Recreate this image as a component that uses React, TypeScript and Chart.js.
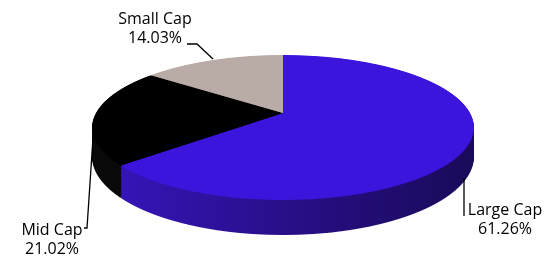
import { useEffect, useRef } from "react";
import { Chart, registerables } from "chart.js";

Chart.register(...registerables);

// ---- data ----
const categories = ["Large Cap", "Mid Cap", "Small Cap"];
const shares = [61.26, 21.02, 14.03];

// ---- styles ----
const topColors = ["#3c15dd", "#000000", "#b9aca6"];
const sideStops = [
  ["#3716bd", "#2a0f8e", "#1a0a58"],
  ["#0a0a0a", "#030303", "#000000"],
  ["#8e847f", "#7d736e", "#6d635e"],
];
// perspective view of the disc (screen px)
const persp = { cx: 283, cy: 113, w: 187, k: 69.6, p: 0.2, d: 28, layers: 40, gx0: 95, gx1: 475 };
const labelLayout = [
  { x: 505, y: 210, line: [[464, 178], [464, 216]] },
  { x: 52, y: 230, line: [[93, 138], [87, 228], [84, 228]] },
  { x: 155, y: 19, line: [[213, 59], [197, 44], [187, 44]] },
];
const FONT = "16px 'Open Sans'";
const W = 554;
const H = 266;

function stripTransform(c: any, ys: number, e: number) {
  const Y = ys - persp.cy;
  const Z = (e - Y) / (persp.k + persp.p * Y);
  const den = 1 + persp.p * Z;
  const dydZ = (-persp.k - persp.p * e) / (den * den);
  const a = persp.w / den / c.r;
  const d = -dydZ / c.r;
  const ee = persp.cx - a * c.x;
  const ff = ys + dydZ * (c.y / c.r - Z);
  return { Z, a, d, e: ee, f: ff };
}

function drawDisc(ctx: CanvasRenderingContext2D, arcs: any[], c: any, e: number, top: boolean) {
  const base = ctx.getTransform();
  for (let row = 30; row < H; row++) {
    const ys = row + 0.5;
    const T = stripTransform(c, ys, e);
    if (T.Z < -1.08 || T.Z > 1.08) continue;
    ctx.save();
    ctx.beginPath();
    ctx.rect(0, row, W, 1);
    ctx.clip();
    ctx.setTransform(base.multiply(new DOMMatrix([T.a, 0, 0, T.d, T.e, T.f])));
    arcs.forEach((arc: any, i: number) => {
      if (top) {
        arc.draw(ctx);
        return;
      }
      const p = arc.getProps(["x", "y", "startAngle", "endAngle", "outerRadius"], true);
      const u0 = (persp.gx0 - T.e) / T.a;
      const u1 = (persp.gx1 - T.e) / T.a;
      const g = ctx.createLinearGradient(u0, 0, u1, 0);
      const st = sideStops[i % sideStops.length];
      g.addColorStop(0, st[0]);
      g.addColorStop(0.45, st[1]);
      g.addColorStop(1, st[2]);
      ctx.beginPath();
      ctx.moveTo(p.x, p.y);
      ctx.arc(p.x, p.y, p.outerRadius, p.startAngle, p.endAngle);
      ctx.closePath();
      ctx.fillStyle = g;
      ctx.fill();
    });
    ctx.restore();
  }
}

const pie3d = {
  id: "pie3d",
  beforeDatasetsDraw(chart: any) {
    const ctx: CanvasRenderingContext2D = chart.ctx;
    const arcs = chart.getDatasetMeta(0).data;
    if (!arcs.length) return false;
    const p0 = arcs[0].getProps(["x", "y", "outerRadius"], true);
    const c = { x: p0.x, y: p0.y, r: p0.outerRadius };
    for (let j = persp.layers; j >= 1; j--) {
      drawDisc(ctx, arcs, c, (persp.d * j) / persp.layers, false);
    }
    drawDisc(ctx, arcs, c, 0, true);
    return false;
  },
  afterDraw(chart: any) {
    const ctx: CanvasRenderingContext2D = chart.ctx;
    ctx.save();
    ctx.strokeStyle = "#000";
    ctx.lineWidth = 1.3;
    ctx.fillStyle = "#000";
    ctx.font = FONT;
    ctx.textAlign = "center";
    ctx.textBaseline = "middle";
    categories.forEach((name, i) => {
      const l = labelLayout[i];
      ctx.beginPath();
      l.line.forEach((pt, j) => (j ? ctx.lineTo(pt[0], pt[1]) : ctx.moveTo(pt[0], pt[1])));
      ctx.stroke();
      ctx.fillText(name, l.x, l.y);
      ctx.fillText(shares[i].toFixed(2) + "%", l.x, l.y + 19);
    });
    ctx.restore();
  },
};

export default function App() {
  const ref = useRef<HTMLCanvasElement>(null);
  useEffect(() => {
    if (!ref.current) return;
    const chart = new Chart(ref.current, {
      type: "pie",
      data: {
        labels: categories,
        datasets: [
          {
            data: shares,
            backgroundColor: topColors,
            borderColor: topColors,
            borderWidth: 0,
          },
        ],
      },
      options: {
        responsive: false,
        animation: false,
        events: [],
        plugins: { legend: { display: false }, tooltip: { enabled: false } },
      },
      plugins: [pie3d],
    });
    return () => chart.destroy();
  }, []);
  return (
    <div style={{ position: "absolute", left: 0, top: 0, width: W, height: H, background: "#fff" }}>
      <canvas ref={ref} width={W} height={H} />
    </div>
  );
}
